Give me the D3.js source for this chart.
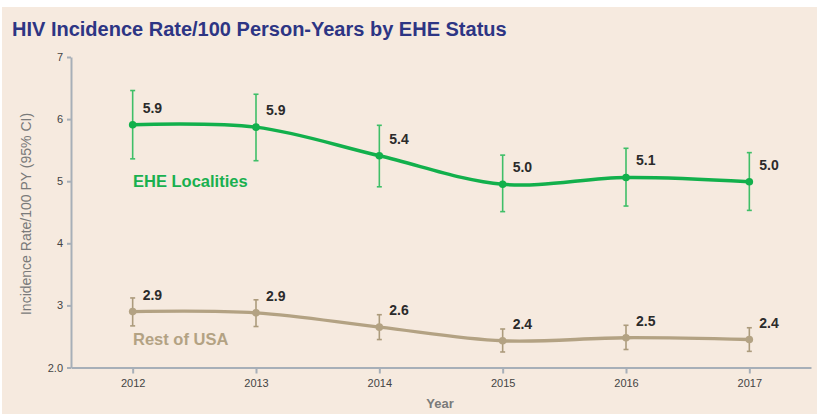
<!DOCTYPE html>
<html lang="en">
<head>
    <meta charset="UTF-8">
    <title>HIV Incidence Rate by EHE Status</title>
    <script src="https://d3js.org/d3.v7.min.js"></script>
    <style>
        body { margin: 0; background: #ffffff; }
        svg { display: block; font-family: "Liberation Sans", Arial, sans-serif; }
        .title { font-size: 20px; font-weight: bold; fill: #2d3584; }
        .axis path, .axis line { stroke: #a7afb8; stroke-width: 2px; }
        .axis text { font-size: 11px; fill: #444; }
        .axis-label { font-size: 14px; fill: #7a7a7a; }
        .value { font-size: 14px; font-weight: bold; fill: #2b2b2b; }
        .series-label { font-size: 16.5px; font-weight: bold; }
    </style>
</head>
<body>
    <svg width="817" height="415"></svg>

    <script>
        // Data
        const years = [2012, 2013, 2014, 2015, 2016, 2017];
        const eheRate = [5.91, 5.87, 5.41, 4.95, 5.06, 4.99];
        const eheLow = [5.36, 5.33, 4.91, 4.51, 4.60, 4.53];
        const eheHigh = [6.46, 6.40, 5.90, 5.42, 5.53, 5.46];
        const eheLabels = ["5.9", "5.9", "5.4", "5.0", "5.1", "5.0"];

        const restRate = [2.90, 2.88, 2.65, 2.43, 2.48, 2.45];
        const restLow = [2.67, 2.66, 2.45, 2.25, 2.29, 2.26];
        const restHigh = [3.12, 3.09, 2.85, 2.62, 2.68, 2.64];
        const restLabels = ["2.9", "2.9", "2.6", "2.4", "2.5", "2.4"];

        const yTicks = [2, 3, 4, 5, 6, 7];
        const yTickLabels = ["2.0", "3", "4", "5", "6", "7"];

        const width = 817;
        const height = 415;
        const svg = d3.select("svg");

        // background panel
        svg.append("rect")
            .attr("x", 2).attr("y", 7)
            .attr("width", width - 2).attr("height", 407)
            .attr("fill", "#f6eadf");

        svg.append("text")
            .attr("class", "title")
            .attr("x", 12).attr("y", 36)
            .text("HIV Incidence Rate/100 Person-Years by EHE Status");

        const x = d3.scaleLinear().domain([2011.5, 2017.5]).range([71, 811]);
        const y = d3.scaleLinear().domain([2, 7]).range([367.5, 57]);

        // axes
        svg.append("g")
            .attr("class", "axis")
            .attr("transform", "translate(0,367.5)")
            .call(d3.axisBottom(x).tickValues(years).tickFormat(d3.format("d"))
                .tickSize(6).tickSizeOuter(0).tickPadding(6))
            .selectAll("text").attr("fill", "#555");

        svg.append("g")
            .attr("class", "axis")
            .attr("transform", "translate(71,0)")
            .call(d3.axisLeft(y).tickValues(yTicks)
                .tickFormat((d, i) => yTickLabels[i])
                .tickSize(4).tickSizeOuter(0).tickPadding(4));

        svg.append("text")
            .attr("class", "axis-label")
            .attr("transform", "translate(31,214) rotate(-90)")
            .attr("text-anchor", "middle")
            .text("Incidence Rate/100 PY (95% CI)");

        svg.append("text")
            .attr("class", "axis-label")
            .attr("x", 440).attr("y", 408)
            .attr("text-anchor", "middle")
            .style("font-weight", "bold")
            .style("font-size", "13px")
            .text("Year");

        const line = d3.line()
            .x(d => x(d.year))
            .y(d => y(d.rate))
            .curve(d3.curveCatmullRom.alpha(0.5));

        function drawSeries(rates, lows, highs, labels, lineColor, barColor) {
            const pts = years.map((yr, i) => ({
                year: yr, rate: rates[i], low: lows[i], high: highs[i], label: labels[i]
            }));

            const g = svg.append("g");

            // error bars
            const bars = g.selectAll(".bar").data(pts).enter().append("g");
            bars.append("line")
                .attr("x1", d => x(d.year)).attr("x2", d => x(d.year))
                .attr("y1", d => y(d.low)).attr("y2", d => y(d.high))
                .attr("stroke", barColor).attr("stroke-width", 1.6);
            bars.append("line")
                .attr("x1", d => x(d.year) - 2.5).attr("x2", d => x(d.year) + 2.5)
                .attr("y1", d => y(d.low)).attr("y2", d => y(d.low))
                .attr("stroke", barColor).attr("stroke-width", 1.6);
            bars.append("line")
                .attr("x1", d => x(d.year) - 2.5).attr("x2", d => x(d.year) + 2.5)
                .attr("y1", d => y(d.high)).attr("y2", d => y(d.high))
                .attr("stroke", barColor).attr("stroke-width", 1.6);

            g.append("path")
                .datum(pts)
                .attr("fill", "none")
                .attr("stroke", lineColor)
                .attr("stroke-width", 3.4)
                .attr("d", line);

            g.selectAll("circle").data(pts).enter().append("circle")
                .attr("cx", d => x(d.year))
                .attr("cy", d => y(d.rate))
                .attr("r", 3.8)
                .attr("fill", lineColor);

            g.selectAll(".value").data(pts).enter().append("text")
                .attr("class", "value")
                .attr("x", d => x(d.year) + 10)
                .attr("y", d => y(d.rate) - 12)
                .text(d => d.label);
        }

        drawSeries(eheRate, eheLow, eheHigh, eheLabels, "#12b04c", "#3fbf68");
        drawSeries(restRate, restLow, restHigh, restLabels, "#b3a283", "#ac9b7c");

        svg.append("text")
            .attr("class", "series-label")
            .attr("x", 133).attr("y", 187)
            .attr("fill", "#19b04f")
            .text("EHE Localities");

        svg.append("text")
            .attr("class", "series-label")
            .attr("x", 133).attr("y", 345)
            .attr("fill", "#b3a283")
            .text("Rest of USA");
    </script>
</body>
</html>
